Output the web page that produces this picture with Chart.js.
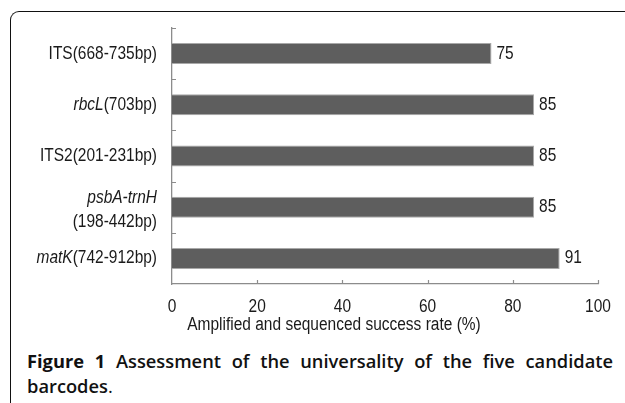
<!DOCTYPE html>
<html>
<head>
<meta charset="utf-8">
<script src="https://cdn.jsdelivr.net/npm/chart.js@4/dist/chart.umd.min.js"></script>
<style>
  body { margin: 0; background: #fff; width: 625px; height: 403px; overflow: hidden; position: relative; }
  #frame { position: absolute; left: 10px; top: 11px; width: 640px; height: 420px;
           border-left: 1.5px solid #111; border-top: 1.5px solid #111; border-top-left-radius: 9px; }
  #chart_box { position: absolute; left: 0; top: 0; width: 625px; height: 340px; }
  #caption { position: absolute; left: 27px; top: 348px; width: 586px; text-align: justify;
             font-family: "Open Sans", "Noto Sans", sans-serif; font-size: 18.3px; line-height: 25px;
             font-weight: 600; color: #111; }
  #caption b { font-weight: 700; }
  #caption .dot { font-weight: 400; }
</style>
</head>
<body>
<div id="frame"></div>
<div id="chart_box"><canvas id="bar_chart" width="625" height="340"></canvas></div>
<div id="caption"><b>Figure 1</b> Assessment of the universality of the five candidate barcodes<span class="dot">.</span></div>
<script>
const barcode_labels = [
  ["ITS(668-735bp)"],
  ["rbcL(703bp)"],
  ["ITS2(201-231bp)"],
  ["psbA-trnH", "(198-442bp)"],
  ["matK(742-912bp)"]];

// gene names printed in italics
const italic_names = ["rbcL", "psbA-trnH", "matK"];

const success_rate = [75, 85, 85, 85, 91];

const x_ticks = [0, 20, 40, 60, 80, 100];
const x_title = "Amplified and sequenced success rate (%)";

// the original uses a narrow Arial; squeeze Liberation Sans sideways to match
const squeeze = 0.86;
const label_font = "18px 'Liberation Sans', Arial, sans-serif";
const italic_font = "italic 18px 'Liberation Sans', Arial, sans-serif";
const axis_color = "#8c8c8c";
const text_color = "#1a1a1a";

function narrowText(ctx, text, x, y, align, font) {
  ctx.save();
  ctx.font = font;
  ctx.textAlign = align;
  ctx.textBaseline = 'middle';
  ctx.translate(x, y);
  ctx.scale(squeeze, 1);
  ctx.fillText(text, 0, 0);
  ctx.restore();
}

function narrowWidth(ctx, text, font) {
  ctx.font = font;
  return ctx.measureText(text).width * squeeze;
}

// draws category labels (mixed italic), tick labels, value labels, inside tick marks and the axis title
const extras_plugin = {
  id: 'extras',
  afterDraw(chart) {
    const ctx = chart.ctx;
    const xs = chart.scales.x;
    const ys = chart.scales.y;
    const area = chart.chartArea;
    ctx.save();

    // short tick marks pointing into the plot
    ctx.strokeStyle = axis_color;
    ctx.lineWidth = 1.2;
    ctx.beginPath();
    x_ticks.slice(1).forEach(v => {
      const px = Math.round(xs.getPixelForValue(v)) + 0.5;
      ctx.moveTo(px, area.bottom);
      ctx.lineTo(px, area.bottom - 4);
    });
    const step = (area.bottom - area.top) / barcode_labels.length;
    for (let i = 0; i < barcode_labels.length; i++) {
      const py = Math.round(area.top + i * step) + 0.5;
      ctx.moveTo(area.left, py);
      ctx.lineTo(area.left + 4, py);
    }
    ctx.stroke();

    ctx.fillStyle = text_color;

    // x tick labels
    x_ticks.forEach(v => {
      narrowText(ctx, String(v), xs.getPixelForValue(v), area.bottom + 23, 'center', label_font);
    });

    // value labels at the bar ends
    chart.getDatasetMeta(0).data.forEach((bar, i) => {
      narrowText(ctx, String(success_rate[i]), bar.x + 5, bar.y, 'left', label_font);
    });

    // category labels, right aligned
    const right_x = area.left - 15;
    barcode_labels.forEach((lines, i) => {
      const cy = ys.getPixelForValue(i);
      const offsets = lines.length > 1 ? [-9, 15] : [0];
      lines.forEach((line, j) => {
        let parts = [[line, false]];
        italic_names.forEach(name => {
          if (line.startsWith(name)) parts = [[name, true], [line.slice(name.length), false]];
        });
        let x = right_x;
        for (let k = parts.length - 1; k >= 0; k--) {
          const font = parts[k][1] ? italic_font : label_font;
          x -= narrowWidth(ctx, parts[k][0], font);
          narrowText(ctx, parts[k][0], x, cy + offsets[j], 'left', font);
          if (parts[k][1]) x -= 1;
        }
      });
    });

    // axis title
    narrowText(ctx, x_title, 334, 325, 'center', label_font);
    ctx.restore();
  }
};

new Chart(document.getElementById('bar_chart'), {
  type: 'bar',
  data: {
    labels: barcode_labels.map(l => l.join(' ')),
    datasets: [{
      data: success_rate,
      backgroundColor: "#5e5e5e",
      borderColor: "#a8a8a8",
      borderWidth: 1,
      barPercentage: 0.41,
      categoryPercentage: 1.0
    }]
  },
  options: {
    responsive: false,
    animation: false,
    indexAxis: 'y',
    layout: { padding: { top: 28, right: 27, left: 0, bottom: 0 } },
    scales: {
      x: {
        min: 0,
        max: 100,
        afterBuildTicks: s => { s.ticks = x_ticks.map(v => ({ value: v })); },
        afterFit: s => { s.height = 56; },
        ticks: { display: false },
        grid: { display: false, drawTicks: false },
        border: { color: axis_color, width: 1.3 }
      },
      y: {
        afterFit: s => { s.width = 172; },
        ticks: { display: false },
        grid: { display: false, drawTicks: false },
        border: { color: axis_color, width: 1.3 }
      }
    },
    plugins: {
      legend: { display: false },
      tooltip: { enabled: false }
    },
    events: []
  },
  plugins: [extras_plugin]
});
</script>
</body>
</html>
